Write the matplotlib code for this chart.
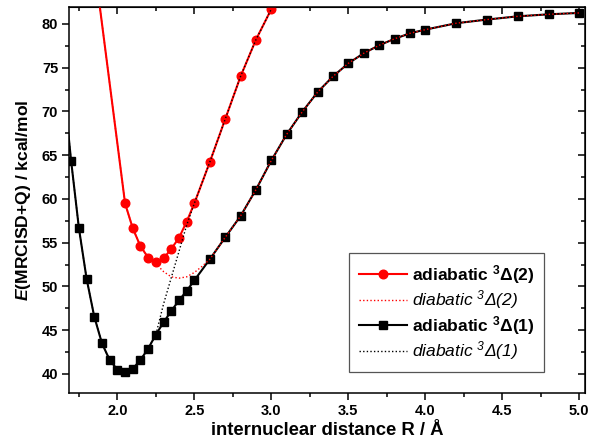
import matplotlib
matplotlib.use("Agg")
import matplotlib.pyplot as plt
from matplotlib.ticker import MultipleLocator

plt.rcParams['font.family'] = ['Liberation Sans', 'DejaVu Sans']
plt.rcParams['mathtext.fontset'] = 'custom'
plt.rcParams['mathtext.it'] = 'Liberation Sans:italic:bold'
plt.rcParams['mathtext.rm'] = 'Liberation Sans:bold'
plt.rcParams['mathtext.sf'] = 'Liberation Sans:italic'

# ---- data (R in Angstrom, E in kcal/mol) ----
r_adia1 = [1.65, 1.70, 1.75, 1.80, 1.85, 1.90, 1.95, 2.00, 2.05, 2.10, 2.15, 2.20, 2.25,
           2.30, 2.35, 2.40, 2.45, 2.50, 2.60, 2.70, 2.80, 2.90, 3.00, 3.10, 3.20,
           3.30, 3.40, 3.50, 3.60, 3.70, 3.80, 3.90, 4.00, 4.20, 4.40, 4.60, 4.80, 5.00]
e_adia1 = [73.0, 64.3, 56.7, 50.9, 46.55, 43.5, 41.6, 40.5, 40.2, 40.6, 41.6, 42.9, 44.5,
           45.9, 47.2, 48.4, 49.5, 50.7, 53.1, 55.6, 58.05, 61.06, 64.4, 67.4, 69.94,
           72.2, 74.0, 75.5, 76.65, 77.56, 78.3, 78.93, 79.35, 80.08, 80.5, 80.87, 81.1, 81.26]

r_adia2 = [1.85, 2.05, 2.10, 2.15, 2.20, 2.25, 2.30, 2.35, 2.40, 2.45, 2.50,
           2.60, 2.70, 2.80, 2.90, 3.00]
e_adia2 = [86.9, 59.5, 56.65, 54.6, 53.3, 52.8, 53.2, 54.3, 55.55, 57.4, 59.5,
           64.2, 69.1, 74.0, 78.2, 81.7]

r_dia2 = [1.85, 2.05, 2.10, 2.15, 2.20, 2.25, 2.30, 2.35, 2.40, 2.45, 2.50, 2.55,
          2.60, 2.70, 2.80, 2.90, 3.00, 3.10, 3.20, 3.30, 3.40, 3.50, 3.60, 3.70,
          3.80, 3.90, 4.00, 4.20, 4.40, 4.60, 4.80, 5.00]
e_dia2 = [86.9, 59.5, 56.65, 54.6, 53.3, 52.6, 51.7, 51.1, 50.95, 51.1, 51.6, 52.3,
          53.1, 55.6, 58.05, 61.06, 64.4, 67.4, 69.94, 72.2, 74.0, 75.5, 76.65, 77.56,
          78.3, 78.93, 79.35, 80.08, 80.5, 80.87, 81.1, 81.26]

r_dia1 = [1.65, 1.70, 1.75, 1.80, 1.85, 1.90, 1.95, 2.00, 2.05, 2.10, 2.15, 2.20, 2.25,
          2.30, 2.35, 2.40, 2.45, 2.50, 2.60, 2.70, 2.80, 2.90, 3.00]
e_dia1 = [73.0, 64.3, 56.7, 50.9, 46.55, 43.5, 41.6, 40.5, 40.2, 40.6, 41.6, 42.9, 44.5,
          48.0, 51.0, 54.0, 57.0, 59.5, 64.2, 69.1, 74.0, 78.2, 81.7]

labels = [r"adiabatic $^{3}$Δ(2)", r"diabatic $^{\mathsf{3}}$Δ(2)",
          r"adiabatic $^{3}$Δ(1)", r"diabatic $^{\mathsf{3}}$Δ(1)"]
xlabel = "internuclear distance R / Å"
ylabel = r"$E$(MRCISD+Q) / kcal/mol"

fig = plt.figure(figsize=(5.89, 4.41), dpi=100)
ax = fig.add_axes([0.1177, 0.1095, 0.8755, 0.8739])

l_a2, = ax.plot(r_adia2, e_adia2, '-', color='#ff0000', lw=1.5, marker='o', ms=6.2,
                mec='#ff0000', mfc='#ff0000', zorder=2)
l_a1, = ax.plot(r_adia1, e_adia1, '-', color='black', lw=1.5, marker='s', ms=5.2,
                zorder=2)
l_d2, = ax.plot(r_dia2, e_dia2, color='#ff0000', lw=1.0, ls=(0, (1, 1.6)), zorder=3)
l_d1, = ax.plot(r_dia1, e_dia1, color='black', lw=1.0, ls=(0, (1, 1.6)), zorder=3)

ax.set_xlim(1.688, 5.037)
ax.set_ylim(37.86, 81.9)

ax.xaxis.set_major_locator(MultipleLocator(0.5))
ax.xaxis.set_minor_locator(MultipleLocator(0.25))
ax.yaxis.set_major_locator(MultipleLocator(5))
ax.yaxis.set_minor_locator(MultipleLocator(2.5))

for sp in ax.spines.values():
    sp.set_linewidth(1.1)

ax.tick_params(which='both', direction='out', top=False, right=False, width=1.1)
ax.tick_params(which='major', length=5, labelsize=10.5, pad=3)
ax.tick_params(which='minor', length=3)
for t in ax.get_xticklabels() + ax.get_yticklabels():
    t.set_fontweight('bold')

# inward ticks on top and right
top = ax.secondary_xaxis('top')
top.xaxis.set_major_locator(MultipleLocator(0.5))
top.xaxis.set_minor_locator(MultipleLocator(0.25))
top.tick_params(which='both', direction='in', labeltop=False, width=1.1)
top.tick_params(which='major', length=5)
top.tick_params(which='minor', length=3)
right = ax.secondary_yaxis('right')
right.yaxis.set_major_locator(MultipleLocator(5))
right.yaxis.set_minor_locator(MultipleLocator(2.5))
right.tick_params(which='both', direction='in', labelright=False, width=1.1)
right.tick_params(which='major', length=5)
right.tick_params(which='minor', length=3)

ax.set_xlabel(xlabel, fontsize=13.3, fontweight='bold', labelpad=3)
ax.set_ylabel(ylabel, fontsize=12.6, fontweight='bold', labelpad=6)

leg = ax.legend([l_a2, l_d2, l_a1, l_d1], labels, loc='lower left',
                bbox_to_anchor=(0.543, 0.054), fontsize=12.5, frameon=True,
                fancybox=False, edgecolor='#555555', framealpha=1,
                handlelength=2.76, handletextpad=0.3, labelspacing=0.15,
                borderpad=0.55, borderaxespad=0)
leg.get_frame().set_linewidth(0.9)
for i, t in enumerate(leg.get_texts()):
    if i % 2 == 0:
        t.set_fontweight('bold')
    else:
        t.set_fontstyle('italic')

fig.savefig('out.png', dpi=100)
